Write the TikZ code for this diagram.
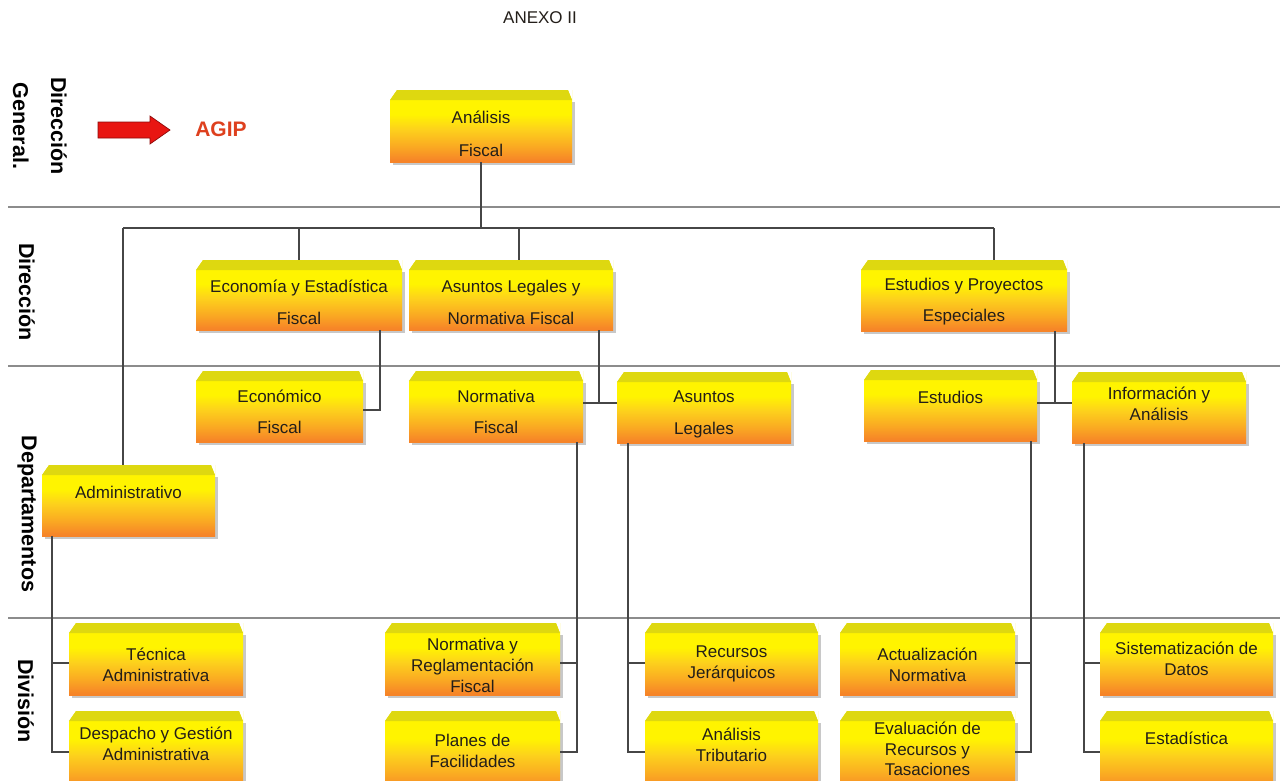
\documentclass[tikz,border=0pt]{standalone}
\usepackage{fontspec}
\setmainfont{Liberation Sans}
\definecolor{ytop}{RGB}{255,244,0}
\definecolor{ymid}{RGB}{253,210,28}
\definecolor{ymid2}{RGB}{250,170,34}
\definecolor{ybot}{RGB}{246,132,40}
\definecolor{bevelc}{RGB}{222,216,16}
\definecolor{shadc}{RGB}{200,200,200}
\definecolor{connc}{RGB}{70,70,70}
\definecolor{sepc}{RGB}{140,140,140}
\definecolor{agipc}{RGB}{222,64,30}
\definecolor{arrowc}{RGB}{232,22,18}
\definecolor{arrowd}{RGB}{140,10,10}
\definecolor{txtc}{RGB}{35,30,25}
\pgfdeclareverticalshading{boxshade}{100bp}{color(0bp)=(ybot); color(26bp)=(ybot); color(36bp)=(ymid2); color(48bp)=(ymid); color(58bp)=(ytop); color(100bp)=(ytop)}
\tikzset{
  orgbody/.style={rectangle, inner sep=0pt, outer sep=0pt, shade, shading=boxshade},
  orgtext/.style={inner sep=0pt, align=center, text=txtc, font=\fontsize{17}{21}\selectfont},
  conn/.style={draw=connc, line width=1.3pt},
  sepline/.style={draw=sepc, line width=2.4pt},
  side/.style={font=\bfseries\fontsize{21.5}{38}\selectfont, text=black, align=center, inner sep=0pt},
}
% name, x1, y1, x2, y2, text centre y, text
\newcommand\orgbox[7]{%
  \pgfmathsetmacro\obw{#4-#2}%
  \pgfmathsetmacro\obh{#5-#3}%
  \fill[shadc] (#2+3,#3+12) rectangle (#4+2.5,#5+2.5);
  \node[orgbody, minimum width=\obw pt, minimum height=\obh pt, anchor=north west] (#1) at (#2,#3) {};
  \fill[white] (#2,#3) -- (#2+7,#3) -- (#2,#3+10) -- cycle;
  \fill[white] (#4,#3) -- (#4-4,#3) -- (#4,#3+10) -- cycle;
  \fill[bevelc] (#2+7,#3) -- (#4-4,#3) -- (#4,#3+10) -- (#2,#3+10) -- cycle;
  \node[orgtext] (#1t) at ({(#2+#4)/2},#6) {#7};
}
\begin{document}
\begin{tikzpicture}[x=1pt,y=-1pt]
\useasboundingbox (0,0) rectangle (1280,780);
\fill[white] (0,0) rectangle (1280,780);

% band separators
\draw[sepline] (8,207) -- (1280,207);
\draw[sepline] (8,366) -- (1280,366);
\draw[sepline] (8,618) -- (1280,618);

% titles and side labels
\node[font=\fontsize{17}{20}\selectfont, text=txtc, inner sep=0pt] (anexo) at (540,18) {ANEXO II};
\node[side, rotate=-90] (lblDG) at (40,126) {Dirección\\General.};
\node[side, rotate=-90] (lblD) at (27,292) {Dirección};
\node[side, rotate=-90] (lblDep) at (27,514) {Departamentos};
\node[side, rotate=-90] (lblDiv) at (26,701) {División};

% arrow and AGIP
\filldraw[fill=arrowc, draw=arrowd, line width=0.7pt]
  (98,122) -- (150,122) -- (150,116) -- (170,130) -- (150,144) -- (150,138) -- (98,138) -- cycle;
\node[font=\bfseries\fontsize{21}{24}\selectfont, text=agipc, inner sep=0pt] (agip) at (221,129) {AGIP};

% boxes
\orgbox{af}{390}{90}{572}{162}{133.5}{Análisis\\[12pt]Fiscal}
\orgbox{eyf}{196}{260}{402}{330}{302}{Economía y Estadística\\[11pt]Fiscal}
\orgbox{aln}{409}{260}{613}{330}{302}{Asuntos Legales y\\[11pt]Normativa Fiscal}
\orgbox{eype}{861}{260}{1067}{331}{302}{Estudios y Proyectos\\[10pt]Especiales}
\orgbox{econ}{196}{371}{363}{442}{412}{Económico\\[10pt]Fiscal}
\orgbox{nf}{409}{371}{583}{442}{412}{Normativa\\[10pt]Fiscal}
\orgbox{al}{617}{372}{791}{443}{414}{Asuntos\\[11pt]Legales}
\orgbox{est}{864}{370}{1037}{441}{397}{Estudios}
\orgbox{ia}{1072}{372}{1246}{443}{403.5}{Información y\\Análisis}
\orgbox{adm}{42}{465}{215}{536}{492}{Administrativo}
\orgbox{tec}{69}{623}{243}{695}{664.5}{Técnica\\Administrativa}
\orgbox{desp}{69}{711}{243}{792}{743.5}{Despacho y Gestión\\Administrativa}
\orgbox{nrf}{385}{623}{560}{695}{665}{Normativa y\\Reglamentación\\Fiscal}
\orgbox{planes}{385}{711}{560}{792}{751}{Planes de\\Facilidades}
\orgbox{rj}{645}{623}{818}{695}{663.5}{Recursos\\Jerárquicos}
\orgbox{at}{645}{711}{818}{792}{745}{Análisis\\Tributario}
\orgbox{act}{840}{623}{1015}{695}{665}{Actualización\\Normativa}
\orgbox{eval}{840}{711}{1015}{792}{749}{Evaluación de\\[-0.5pt]Recursos y\\[-0.5pt]Tasaciones}
\orgbox{sist}{1100}{623}{1273}{695}{658.5}{Sistematización de\\Datos}
\orgbox{estad}{1100}{711}{1273}{792}{738}{Estadística}

% top bus
\coordinate (busL) at (123,228);
\coordinate (busR) at (994,228);
\coordinate (d3) at (519,228);
\draw[conn] (af.south) -- (af.south |- busL);
\draw[conn] (busL) -- (busR);
\draw[conn] (busL) -- (busL |- adm.north);
\draw[conn] (eyf.north |- busL) -- (eyf.north);
\draw[conn] (d3) -- (d3 |- aln.north);
\draw[conn] (busR) -- (busR |- eype.north);

% direction -> departments
\coordinate (j1) at (380,410);
\draw[conn] (j1 |- eyf.south) -- (j1) -- (j1 -| econ.east);
\coordinate (j2) at (599,403);
\draw[conn] (j2 |- aln.south) -- (j2);
\draw[conn] (nf.east |- j2) -- (al.west |- j2);
\coordinate (j3) at (1055,403);
\draw[conn] (j3 |- eype.south) -- (j3);
\draw[conn] (est.east |- j3) -- (ia.west |- j3);

% departments -> divisions
\coordinate (aT) at (52,663);   \coordinate (aB) at (52,752);
\draw[conn] (aT |- adm.south) -- (aB) -- (aB -| desp.west);
\draw[conn] (aT) -- (aT -| tec.west);
\coordinate (nT) at (577,663);  \coordinate (nB) at (577,752);
\draw[conn] (nT |- nf.south) -- (nB) -- (nB -| planes.east);
\draw[conn] (nT) -- (nT -| nrf.east);
\coordinate (lT) at (628,663);  \coordinate (lB) at (628,752);
\draw[conn] (lT |- al.south) -- (lB) -- (lB -| at.west);
\draw[conn] (lT) -- (lT -| rj.west);
\coordinate (eT) at (1031,663); \coordinate (eB) at (1031,752);
\draw[conn] (eT |- est.south) -- (eB) -- (eB -| eval.east);
\draw[conn] (eT) -- (eT -| act.east);
\coordinate (iT) at (1084,663); \coordinate (iB) at (1084,752);
\draw[conn] (iT |- ia.south) -- (iB) -- (iB -| estad.west);
\draw[conn] (iT) -- (iT -| sist.west);
\end{tikzpicture}
\end{document}
